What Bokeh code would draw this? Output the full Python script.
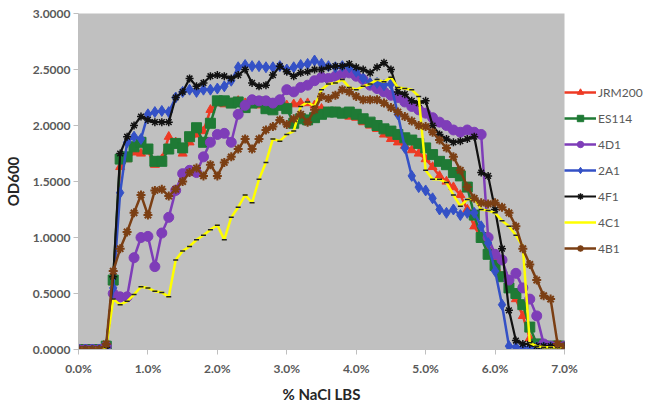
from bokeh.plotting import figure
from bokeh.models import Range1d, Legend, LegendItem, PrintfTickFormatter, FixedTicker
from bokeh.embed import file_html
from bokeh.resources import INLINE

nacl = [0.0, 0.1, 0.2, 0.3, 0.4, 0.5, 0.6, 0.7, 0.8, 0.9,
        1.0, 1.1, 1.2, 1.3, 1.4, 1.5, 1.6, 1.7, 1.8, 1.9,
        2.0, 2.1, 2.2, 2.3, 2.4, 2.5, 2.6, 2.7, 2.8, 2.9,
        3.0, 3.1, 3.2, 3.3, 3.4, 3.5, 3.6, 3.7, 3.8, 3.9,
        4.0, 4.1, 4.2, 4.3, 4.4, 4.5, 4.6, 4.7, 4.8, 4.9,
        5.0, 5.1, 5.2, 5.3, 5.4, 5.5, 5.6, 5.7, 5.8, 5.9,
        6.0, 6.1, 6.2, 6.3, 6.4, 6.5, 6.6, 6.7, 6.8, 6.9, 7.0]

jrm200 = [0.0, 0.0, 0.0, 0.0, 0.02, 0.6, 1.63, 1.7, 1.76, 1.75,
          1.77, 1.65, 1.7, 1.9, 1.85, 1.75, 1.85, 1.92, 1.95, 2.14,
          2.2, 2.19, 2.2, 2.22, 2.2, 2.2, 2.18, 2.17, 2.16, 2.17,
          2.18, 2.19, 2.2, 2.2, 2.18, 2.15, 2.12, 2.12, 2.1, 2.08,
          2.07, 2.03, 2.0, 1.97, 1.92, 1.88, 1.85, 1.82, 1.78, 1.75,
          1.7, 1.63, 1.55, 1.5, 1.45, 1.38, 1.25, 1.1, 1.0, 0.9,
          0.8, 0.65, 0.55, 0.45, 0.3, 0.1, 0.03, 0.02, 0.02, 0.02, 0.02]

es114 = [0.0, 0.0, 0.0, 0.0, 0.03, 0.62, 1.7, 1.72, 1.81, 1.85,
         1.79, 1.68, 1.68, 1.79, 1.84, 1.8, 1.9, 1.98, 1.85, 2.02,
         2.22, 2.22, 2.2, 2.21, 2.16, 2.2, 2.21, 2.15, 2.14, 2.18,
         2.15, 2.02, 2.06, 2.05, 2.07, 2.1, 2.12, 2.12, 2.11, 2.12,
         2.1, 2.06, 2.03, 2.0, 1.97, 1.95, 1.92, 1.89, 1.87, 1.84,
         1.8, 1.74, 1.68, 1.65, 1.58, 1.55, 1.45, 1.2, 1.0, 0.85,
         0.75, 0.65, 0.55, 0.5, 0.4, 0.2, 0.05, 0.03, 0.03, 0.03, 0.03]

d4d1 = [0.0, 0.0, 0.0, 0.0, 0.03, 0.5, 0.47, 0.47, 0.82, 1.0,
        1.01, 0.74, 1.04, 1.18, 1.42, 1.57, 1.6, 1.58, 1.72, 1.85,
        1.92, 1.93, 1.85, 2.1, 2.18, 2.23, 2.22, 2.22, 2.2, 2.23,
        2.32, 2.3, 2.34, 2.36, 2.4, 2.43, 2.42, 2.44, 2.46, 2.47,
        2.44, 2.41, 2.36, 2.33, 2.3, 2.27, 2.25, 2.21, 2.17, 2.14,
        2.11, 2.07, 2.03, 2.0, 1.96, 1.94, 1.96, 1.94, 1.92, 1.0,
        0.85, 0.8, 0.62, 0.68, 0.55, 0.45, 0.3, 0.05, 0.03, 0.03, 0.03]

a2a1 = [0.0, 0.0, 0.0, 0.0, 0.02, 0.55, 1.4, 1.85, 1.9, 1.88,
        2.1, 2.12, 2.13, 2.12, 2.25, 2.3, 2.32, 2.3, 2.32, 2.32,
        2.33, 2.35, 2.4, 2.52, 2.54, 2.53, 2.53, 2.52, 2.52, 2.53,
        2.5, 2.52, 2.54, 2.55, 2.58, 2.55, 2.53, 2.52, 2.53, 2.52,
        2.48, 2.42, 2.38, 2.38, 2.36, 2.37, 2.1, 1.8, 1.55, 1.45,
        1.42, 1.35, 1.25, 1.22, 1.25, 1.2, 1.22, 1.22, 1.1, 0.95,
        0.7, 0.4, 0.03, 0.02, 0.02, 0.02, 0.02, 0.02, 0.02, 0.02, 0.02]

f4f1 = [0.0, 0.0, 0.0, 0.0, 0.02, 0.65, 1.75, 1.9, 2.0, 2.08,
        2.05, 2.03, 2.03, 2.03, 2.25, 2.3, 2.42, 2.35, 2.38, 2.44,
        2.45, 2.44, 2.42, 2.45, 2.5, 2.38, 2.35, 2.36, 2.45, 2.53,
        2.48, 2.44, 2.47, 2.48, 2.5, 2.5, 2.52, 2.53, 2.53, 2.55,
        2.52, 2.5, 2.47, 2.52, 2.56, 2.5, 2.3, 2.28, 2.22, 2.2,
        2.22, 2.0, 1.92, 1.88, 1.85, 1.86, 1.88, 1.9, 1.58, 1.55,
        1.25, 0.9, 0.35, 0.08, 0.05, 0.05, 0.03, 0.03, 0.03, 0.03, 0.03]

c4c1 = [0.01, 0.01, 0.01, 0.01, 0.02, 0.45, 0.4, 0.43, 0.49, 0.56,
        0.55, 0.52, 0.51, 0.47, 0.8, 0.88, 0.92, 0.98, 1.02, 1.07,
        1.11, 0.98, 1.18, 1.27, 1.38, 1.31, 1.52, 1.67, 1.88, 1.86,
        1.92, 1.95, 2.17, 2.21, 2.17, 2.32, 2.37, 2.38, 2.41, 2.34,
        2.32, 2.35, 2.37, 2.41, 2.39, 2.43, 2.34, 2.33, 2.32, 2.26,
        1.6, 1.52, 1.52, 1.49, 1.38, 1.28, 1.34, 1.35, 1.25, 1.24,
        1.22, 1.15, 1.1, 1.02, 0.92, 0.06, 0.03, 0.02, 0.02, 0.02, 0.02]

b4b1 = [0.0, 0.0, 0.0, 0.0, 0.05, 0.7, 0.9, 1.05, 1.22, 1.38,
        1.2, 1.42, 1.43, 1.37, 1.43, 1.5, 1.58, 1.62, 1.55, 1.65,
        1.55, 1.67, 1.72, 1.79, 1.88, 1.79, 1.88, 1.96, 1.99, 2.05,
        2.01, 2.06, 2.1, 2.03, 2.14, 2.26, 2.24, 2.27, 2.32, 2.3,
        2.26, 2.23, 2.23, 2.23, 2.2, 2.16, 2.12, 2.08, 2.04, 2.0,
        1.99, 1.94, 1.87, 1.8, 1.72, 1.6, 1.45, 1.35, 1.31, 1.3,
        1.31, 1.27, 1.22, 1.1, 0.9, 0.76, 0.62, 0.48, 0.45, 0.05, 0.03]

names = ["JRM200", "ES114", "4D1", "2A1", "4F1", "4C1", "4B1"]
x_ticks = [0, 1, 2, 3, 4, 5, 6, 7]
y_ticks = [0.0, 0.5, 1.0, 1.5, 2.0, 2.5, 3.0]

FONT = "Lato"
TICK_COLOR = "#595959"

p = figure(output_backend="svg", toolbar_location=None,
           frame_width=486, frame_height=336,
           x_range=Range1d(0, 7), y_range=Range1d(0, 3),
           min_border_left=60, min_border_top=13, min_border_bottom=40, min_border_right=0,
           background_fill_color="#C0C0C0", border_fill_color="white",
           outline_line_color=None)

p.xgrid.visible = False
p.ygrid.visible = False

for ax in (p.xaxis[0], p.yaxis[0]):
    ax.axis_line_color = "#BFBFBF"
    ax.major_tick_line_color = "#BFBFBF"
    ax.minor_tick_line_color = None
    ax.major_tick_out = 5
    ax.major_tick_in = 0
    ax.major_label_text_font = FONT
    ax.major_label_text_font_style = "bold"
    ax.major_label_text_font_size = "12px"
    ax.major_label_text_color = TICK_COLOR
    ax.axis_label_text_font = FONT
    ax.axis_label_text_font_style = "bold"
    ax.axis_label_text_font_size = "15px"
    ax.axis_label_text_color = "#262626"

p.xaxis.ticker = FixedTicker(ticks=x_ticks)
p.yaxis.ticker = FixedTicker(ticks=y_ticks)
p.xaxis.formatter = PrintfTickFormatter(format="%.1f%%")
p.yaxis.formatter = PrintfTickFormatter(format="%.4f")
p.xaxis.axis_label = "% NaCl LBS"
p.yaxis.axis_label = "OD600"
p.xaxis.major_label_standoff = 6
p.xaxis.axis_label_standoff = 6
p.yaxis.major_label_standoff = 3
p.yaxis.axis_label_standoff = 8

items = []

r1 = p.line(nacl, jrm200, line_color="#EE3A24", line_width=2.5)
m1 = p.scatter(nacl, jrm200, marker="triangle", size=9, fill_color="#EE3A24", line_color="#EE3A24")
items.append(LegendItem(label=names[0], renderers=[r1, m1]))

r2 = p.line(nacl, es114, line_color="#1F7A35", line_width=2.5)
m2 = p.scatter(nacl, es114, marker="square", size=10, fill_color="#1F7A35", line_color="#1F7A35")
items.append(LegendItem(label=names[1], renderers=[r2, m2]))

r3 = p.line(nacl, d4d1, line_color="#7E3DB8", line_width=2.5)
m3 = p.scatter(nacl, d4d1, marker="circle", size=10, fill_color="#7E3DB8", line_color="#7E3DB8")
items.append(LegendItem(label=names[2], renderers=[r3, m3]))

r4 = p.line(nacl, a2a1, line_color="#3451C6", line_width=2.5)
m4 = p.scatter(nacl, a2a1, marker="diamond", size=11, fill_color="#3451C6", line_color="#3451C6")
items.append(LegendItem(label=names[3], renderers=[r4, m4]))

r5 = p.line(nacl, f4f1, line_color="#111111", line_width=2.2)
m5 = p.scatter(nacl, f4f1, marker="asterisk", size=8, line_color="#111111", line_width=1.5)
items.append(LegendItem(label=names[4], renderers=[r5, m5]))

r6 = p.line(nacl, c4c1, line_color="#FFFF00", line_width=2.5)
m6 = p.scatter(nacl, c4c1, marker="dash", size=5, line_color="#222222", line_width=1.5)
items.append(LegendItem(label=names[5], renderers=[r6]))

r7 = p.line(nacl, b4b1, line_color="#7B3F14", line_width=2.5)
m7 = p.scatter(nacl, b4b1, marker="asterisk", size=9, line_color="#7B3F14", line_width=2)
items.append(LegendItem(label=names[6], renderers=[r7, m7]))

legend = Legend(items=items, location=(0, 93),
                label_text_font=FONT, label_text_font_size="12px",
                label_text_color=TICK_COLOR,
                glyph_width=32, glyph_height=16, label_height=16,
                spacing=10, padding=4, margin=0, label_standoff=2,
                border_line_color=None, background_fill_alpha=0)
p.add_layout(legend, "right")

open("out.html", "w").write(file_html(p, INLINE))
